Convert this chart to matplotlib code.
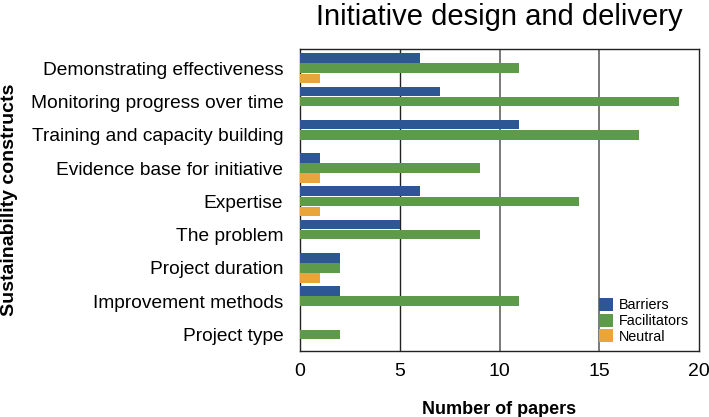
import numpy as np
import matplotlib.pyplot as plt

plt.rcParams['font.family'] = ['Liberation Sans', 'DejaVu Sans']

categories = ['Demonstrating effectiveness', 'Monitoring progress over time',
              'Training and capacity building', 'Evidence base for initiative',
              'Expertise', 'The problem', 'Project duration',
              'Improvement methods', 'Project type']
barriers = [6, 7, 11, 1, 6, 5, 2, 2, 0]
facilitators = [11, 19, 17, 9, 14, 9, 2, 11, 2]
neutral = [1, 0, 0, 1, 1, 0, 1, 0, 0]

fig = plt.figure(figsize=(7.09, 4.17), dpi=100)
ax = fig.add_axes([300/709, 1 - 351/417, 399/709, 302/417])

y = np.arange(len(categories))
h = 0.29
step = 0.305
ax.barh(y - step, barriers, height=h, color='#2D5794', label='Barriers', zorder=3)
ax.barh(y, facilitators, height=h, color='#5D9A4A', label='Facilitators', zorder=3)
ax.barh(y + step, neutral, height=h, color='#E9A43A', label='Neutral', zorder=3)

ax.set_xlim(0, 20)
ax.set_ylim(8.5, -0.58)
ax.set_xticks([0, 5, 10, 15, 20])
ax.set_yticks(y)
ax.set_yticklabels(categories, fontsize=13.8)
ax.tick_params(axis='x', labelsize=14, length=0, pad=9)
ax.tick_params(axis='y', length=0, pad=12)
ax.axvline(5, color='#222222', linewidth=1, zorder=1)
for xv in [10, 15]:
    ax.axvline(xv, color='#555555', linewidth=1.1, zorder=1)
for s in ax.spines.values():
    s.set_color('#222222')
    s.set_linewidth(1)

ax.set_xlabel('Number of papers', fontsize=13, fontweight='bold', labelpad=15)
ax.set_ylabel('Sustainability constructs', fontsize=14, fontweight='bold', labelpad=9)
ax.set_title('Initiative design and delivery', fontsize=21, pad=17)

ax.legend(loc='lower right', frameon=False, fontsize=10.4, handlelength=1.0,
          handleheight=1.0, handletextpad=0.4, labelspacing=0.1,
          borderaxespad=0.3, bbox_to_anchor=(1.0, -0.01))

fig.savefig('out.png', dpi=100)
